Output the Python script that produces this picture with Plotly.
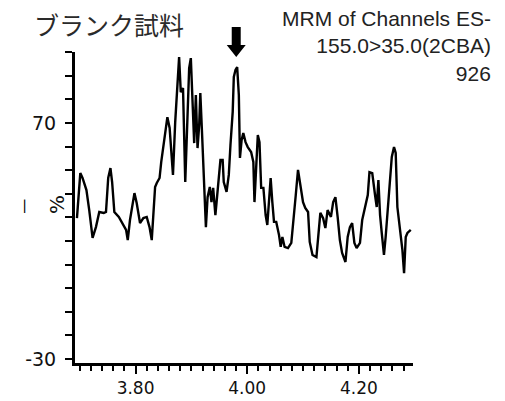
import numpy as np
import plotly.graph_objects as go

# retention time (min) and relative intensity (%)
rt = [3.695, 3.701, 3.705, 3.712, 3.717, 3.723, 3.729, 3.735, 3.743, 3.747,
      3.751, 3.755, 3.758, 3.762, 3.770, 3.778, 3.783, 3.786, 3.790, 3.798,
      3.802, 3.808, 3.814, 3.820, 3.825, 3.829, 3.835, 3.838, 3.843, 3.846,
      3.851, 3.857, 3.861, 3.867, 3.871, 3.875, 3.878, 3.881, 3.885, 3.889,
      3.893, 3.896, 3.899, 3.902, 3.905, 3.908, 3.911, 3.914, 3.916, 3.919,
      3.923, 3.926, 3.929, 3.933, 3.936, 3.939, 3.943, 3.948, 3.952, 3.956,
      3.958, 3.963, 3.967, 3.970, 3.974, 3.976, 3.979, 3.982, 3.985, 3.987,
      3.990, 3.993, 3.997, 4.001, 4.007, 4.011, 4.013, 4.016, 4.019, 4.022,
      4.025, 4.029, 4.033, 4.036, 4.039, 4.042, 4.045, 4.048, 4.052, 4.057,
      4.060, 4.063, 4.067, 4.073, 4.079, 4.083, 4.087, 4.091, 4.095, 4.100,
      4.104, 4.109, 4.112, 4.117, 4.124, 4.128, 4.131, 4.136, 4.140, 4.144,
      4.150, 4.154, 4.158, 4.162, 4.166, 4.170, 4.176, 4.180, 4.184, 4.188,
      4.192, 4.196, 4.202, 4.206, 4.211, 4.216, 4.219, 4.224, 4.229, 4.232,
      4.235, 4.238, 4.241, 4.245, 4.248, 4.253, 4.256, 4.259, 4.263, 4.266,
      4.269, 4.274, 4.278, 4.281, 4.284, 4.287, 4.293]
intensity = [29.7, 48.8, 46.7, 41.6, 33.1, 21.3, 25.9, 32.3, 31.9, 32.3,
             46.7, 50.9, 45.0, 32.3, 30.2, 26.8, 24.7, 20.4, 28.9, 40.3,
             36.1, 27.6, 29.7, 30.2, 25.9, 20.4, 42.9, 44.6, 46.7, 53.5,
             62.8, 72.5, 67.9, 48.0, 70.4, 86.1, 98.0, 83.1, 84.8, 45.0,
             76.4, 93.3, 97.5, 80.6, 61.5, 81.9, 59.4, 69.2, 82.7, 66.2,
             40.8, 25.9, 38.6, 42.9, 36.5, 42.5, 31.0, 43.7, 54.3, 54.3,
             45.0, 40.8, 48.0, 60.7, 74.7, 89.5, 92.5, 93.7, 81.9, 55.2,
             62.8, 65.8, 61.9, 59.8, 57.7, 53.5, 36.5, 50.9, 64.9, 61.9,
             42.5, 42.5, 31.0, 26.8, 39.5, 46.7, 36.5, 28.1, 28.1, 22.5,
             17.5, 21.7, 17.5, 17.0, 19.2, 28.1, 39.5, 50.1, 44.6, 36.5,
             34.0, 32.3, 19.6, 14.1, 13.2, 22.5, 31.9, 29.7, 25.5, 33.1,
             30.2, 36.5, 38.6, 30.2, 20.4, 14.9, 11.1, 21.7, 25.9, 27.6,
             19.2, 17.0, 19.2, 28.9, 34.0, 39.5, 49.2, 48.8, 39.5, 34.4,
             45.8, 31.0, 23.4, 14.1, 21.7, 36.1, 47.1, 55.6, 59.8, 57.3,
             34.4, 24.7, 16.2, 6.4, 21.7, 23.4, 24.7]

x_major = [3.70, 3.80, 3.90, 4.00, 4.10, 4.20]
x_major_text = ["", "3.80", "", "4.00", "", "4.20"]
x_minor = [round(v, 2) for v in np.arange(3.70, 4.30, 0.02)]
y_ticks = list(range(-30, 101, 10))
y_tick_text = ["-30" if v == -30 else ("70" if v == 70 else "") for v in y_ticks]

title_jp = "ブランク試料"
title_right = "MRM of Channels ES-<br>155.0>35.0(2CBA)<br>926"

fig = go.Figure()
fig.add_trace(go.Scatter(x=rt, y=intensity, mode="lines",
                         line=dict(color="black", width=2.4),
                         hoverinfo="skip", showlegend=False))

fig.update_layout(
    width=505, height=401,
    margin=dict(l=75, r=92, t=52, b=38, pad=0),
    paper_bgcolor="white", plot_bgcolor="white",
    xaxis=dict(range=[3.6915, 4.297], showgrid=False, zeroline=False,
               automargin=False,
               showline=True, linecolor="black", linewidth=3,
               tickmode="array", tickvals=x_major, ticktext=x_major_text,
               ticks="outside", ticklen=8, tickwidth=2, tickcolor="black",
               tickfont=dict(family="DejaVu Sans", size=17, color="#111111"),
               ticklabelstandoff=0,
               minor=dict(tickmode="array", tickvals=x_minor, ticks="outside",
                          ticklen=5, tickwidth=2, tickcolor="black")),
    yaxis=dict(range=[-31.7, 100.1], showgrid=False, zeroline=False,
               automargin=False,
               showline=True, linecolor="black", linewidth=3,
               tickmode="array", tickvals=y_ticks, ticktext=y_tick_text,
               ticks="outside", ticklen=7, tickwidth=2, tickcolor="black",
               tickfont=dict(family="DejaVu Sans", size=19, color="#111111"),
               ticklabelstandoff=5),
)

fig.add_annotation(text=title_jp, xref="paper", yref="paper",
                   x=-0.128, y=1.09, xanchor="left", yanchor="middle",
                   showarrow=False,
                   font=dict(family="Noto Sans CJK JP", size=25, color="#2a2a2a"))
fig.add_annotation(text=title_right, xref="paper", yref="paper",
                   x=1.237, y=1.15, xanchor="right", yanchor="top",
                   align="right", showarrow=False,
                   font=dict(family="Liberation Sans", size=21, color="#222222"))
fig.add_annotation(text="%", xref="paper", yref="paper",
                   x=-0.095, y=0.511, textangle=-90, showarrow=False,
                   font=dict(family="DejaVu Sans", size=20, color="#111111"))
fig.add_annotation(text="—", xref="paper", yref="paper",
                   x=-0.184, y=0.505, textangle=-90, showarrow=False,
                   font=dict(family="DejaVu Sans", size=15, color="#000000"))

# downward arrow marking the peak
fig.add_shape(type="path", xref="paper", yref="paper",
              path=("M 0.4637 1.080 L 0.4903 1.080 L 0.4903 1.0225 "
                    "L 0.5051 1.0225 L 0.477 0.984 L 0.4489 1.0225 "
                    "L 0.4637 1.0225 Z"),
              fillcolor="black", line=dict(color="black", width=0))

fig.write_html("out.html")
